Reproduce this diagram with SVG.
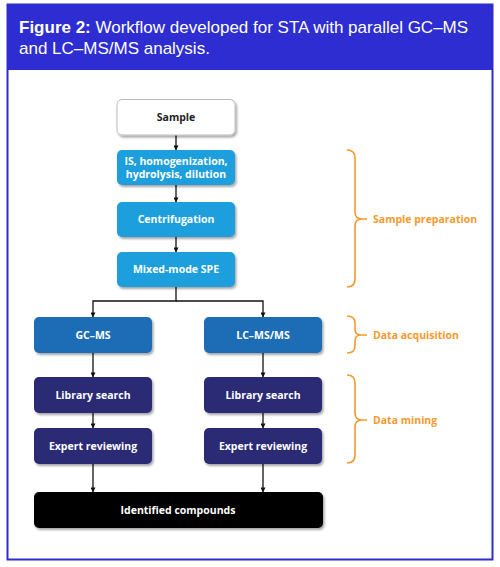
<svg xmlns="http://www.w3.org/2000/svg" width="500" height="567" viewBox="0 0 500 567">
<defs>
<filter id="sh" x="-10%" y="-20%" width="130%" height="150%">
<feDropShadow dx="1.5" dy="2" stdDeviation="1.2" flood-color="#000" flood-opacity="0.35"/>
</filter>
<marker id="ar" viewBox="0 0 6 6" refX="5.5" refY="3" markerWidth="5" markerHeight="5" orient="auto" markerUnits="userSpaceOnUse">
<path d="M0,0 L6,3 L0,6 z" fill="#111"/>
</marker>
</defs>
<style>
.hdr{font-family:"Liberation Sans",Arial,sans-serif;font-size:17px;fill:#fff}
.lbl{font-family:"Open Sans","Noto Sans",sans-serif;font-weight:700;font-size:10.5px;fill:#fff;text-anchor:middle}
.dk{fill:#222}
.br{fill:none;stroke:#f39a2e;stroke-width:1.6}
.brt{font-family:"Open Sans","Noto Sans",sans-serif;font-weight:700;font-size:10.5px;fill:#f39a2e}
.c1{fill:#1e9fdc}
.c2{fill:#1b6db6}
.c3{fill:#2c2b74}
.c4{fill:#050505}
.cw{fill:#fff;stroke:#bbb;stroke-width:1}
.cn{fill:none;stroke:#111;stroke-width:1.3}
</style>
<rect x="0" y="0" width="500" height="567" fill="#fff"/>
<rect x="7.5" y="4.5" width="485" height="555" fill="#fff" stroke="#2d2dd2" stroke-width="2"/>
<rect x="7" y="4" width="486" height="66" fill="#2d2dd2"/>
<text class="hdr" x="19" y="33"><tspan font-weight="700">Figure 2:</tspan> Workflow developed for STA with parallel GC–MS</text>
<text class="hdr" x="19" y="54">and LC–MS/MS analysis.</text>

<g id="connectors">
<line class="cn" x1="176" y1="135" x2="176" y2="150" marker-end="url(#ar)"/>
<line class="cn" x1="176" y1="185" x2="176" y2="202" marker-end="url(#ar)"/>
<line class="cn" x1="176" y1="237" x2="176" y2="252" marker-end="url(#ar)"/>
<polyline class="cn" points="176,287 176,301 93,301 93,317" marker-end="url(#ar)"/>
<polyline class="cn" points="176,301 263,301 263,317" marker-end="url(#ar)"/>
<line class="cn" x1="93" y1="353" x2="93" y2="377" marker-end="url(#ar)"/>
<line class="cn" x1="263" y1="353" x2="263" y2="377" marker-end="url(#ar)"/>
<line class="cn" x1="93" y1="413" x2="93" y2="428" marker-end="url(#ar)"/>
<line class="cn" x1="263" y1="413" x2="263" y2="428" marker-end="url(#ar)"/>
<line class="cn" x1="93" y1="464" x2="93" y2="492" marker-end="url(#ar)"/>
<line class="cn" x1="263" y1="464" x2="263" y2="492" marker-end="url(#ar)"/>
</g>

<g id="sample"><rect class="cw" x="117" y="99.5" width="118" height="35.5" rx="5" filter="url(#sh)"/><text class="lbl dk" x="176" y="121">Sample</text></g>
<g id="is"><rect class="c1" x="117" y="150" width="118" height="35" rx="5" filter="url(#sh)"/><text class="lbl" x="176" y="165">IS, homogenization,</text><text class="lbl" x="176" y="178">hydrolysis, dilution</text></g>
<g id="centrifugation"><rect class="c1" x="117" y="202" width="118" height="35" rx="5" filter="url(#sh)"/><text class="lbl" x="176" y="223">Centrifugation</text></g>
<g id="spe"><rect class="c1" x="117" y="252" width="118" height="35" rx="5" filter="url(#sh)"/><text class="lbl" x="176" y="273">Mixed-mode SPE</text></g>
<g id="gcms"><rect class="c2" x="34" y="317" width="118" height="36" rx="5" filter="url(#sh)"/><text class="lbl" x="93" y="338.5">GC–MS</text></g>
<g id="lcms"><rect class="c2" x="204" y="317" width="118" height="36" rx="5" filter="url(#sh)"/><text class="lbl" x="263" y="338.5">LC–MS/MS</text></g>
<g id="lib1"><rect class="c3" x="34" y="377" width="118" height="36" rx="5" filter="url(#sh)"/><text class="lbl" x="93" y="398.5">Library search</text></g>
<g id="lib2"><rect class="c3" x="204" y="377" width="118" height="36" rx="5" filter="url(#sh)"/><text class="lbl" x="263" y="398.5">Library search</text></g>
<g id="exp1"><rect class="c3" x="34" y="428" width="118" height="36" rx="5" filter="url(#sh)"/><text class="lbl" x="93" y="449.5">Expert reviewing</text></g>
<g id="exp2"><rect class="c3" x="204" y="428" width="118" height="36" rx="5" filter="url(#sh)"/><text class="lbl" x="263" y="449.5">Expert reviewing</text></g>
<g id="identified"><rect class="c4" x="34" y="492" width="289" height="36" rx="5" filter="url(#sh)"/><text class="lbl" x="178" y="513.5">Identified compounds</text></g>

<g id="brace-prep"><path class="br" d="M347,150 Q355,150 355,158 L355,212 Q355,219 362,219 L367,219 M362,219 Q355,219 355,226 L355,279 Q355,287 347,287"/><text class="brt" x="373" y="223">Sample preparation</text></g>
<g id="brace-acq"><path class="br" d="M347,316 Q355,316 355,323 L355,329 Q355,335 361,335 L367,335 M361,335 Q355,335 355,341 L355,346 Q355,353 347,353"/><text class="brt" x="373" y="339">Data acquisition</text></g>
<g id="brace-mine"><path class="br" d="M347,375 Q355,375 355,383 L355,413 Q355,420 362,420 L367,420 M362,420 Q355,420 355,427 L355,455 Q355,463 347,463"/><text class="brt" x="373" y="424">Data mining</text></g>
</svg>
